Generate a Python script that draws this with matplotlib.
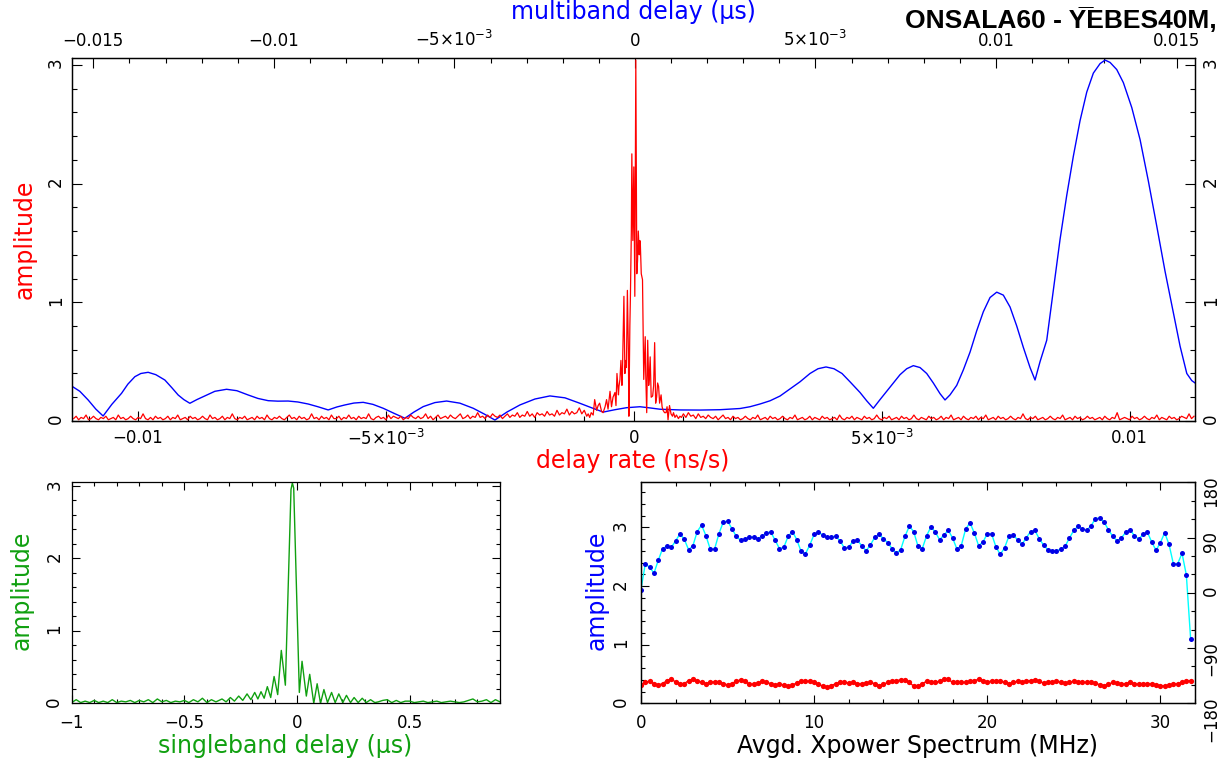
import numpy as np
import matplotlib
matplotlib.use('agg')
import matplotlib.pyplot as plt
from matplotlib.ticker import MultipleLocator, FixedLocator, FixedFormatter

plt.rcParams['font.family'] = ['DejaVu Sans']
plt.rcParams['mathtext.fontset'] = 'dejavusans'

RED = '#ff0000'
BLUE = '#0000ff'
GREEN = '#10a010'

# --- delay rate fringe (ns/s), noise floor sampled every 5e-5 ns/s
RATE_STEP = 5e-5
rate_left_start = -0.0113
rate_left_amp = [0.02, 0.04, 0.01, 0.03, 0.02, 0.05, 0.01, 0.02, 0.04, 0.02,
                 0.01, 0.03, 0.02, 0.04, 0.01, 0.02, 0.03, 0.01, 0.05, 0.02,
                 0.03, 0.01, 0.02, 0.04, 0.02, 0.01, 0.03, 0.02, 0.06, 0.02,
                 0.01, 0.03, 0.01, 0.04, 0.02, 0.03, 0.01, 0.02, 0.04, 0.01,
                 0.03, 0.02, 0.05, 0.01, 0.02, 0.03, 0.01, 0.04, 0.02, 0.03,
                 0.01, 0.02, 0.04, 0.02, 0.01, 0.05, 0.02, 0.03, 0.01, 0.02,
                 0.04, 0.01, 0.03, 0.02, 0.06, 0.02, 0.01, 0.03, 0.02, 0.04,
                 0.01, 0.02, 0.03, 0.01, 0.04, 0.02, 0.03, 0.01, 0.05, 0.02,
                 0.01, 0.03, 0.02, 0.04, 0.02, 0.01, 0.03, 0.05, 0.02, 0.03,
                 0.01, 0.04, 0.02, 0.03, 0.01, 0.02, 0.06, 0.02, 0.03, 0.01,
                 0.04, 0.02, 0.03, 0.01, 0.05, 0.02, 0.02, 0.04, 0.01, 0.03,
                 0.02, 0.05, 0.02, 0.03, 0.01, 0.04, 0.02, 0.03, 0.02, 0.06,
                 0.02, 0.01, 0.03, 0.04, 0.02, 0.03, 0.01, 0.05, 0.02, 0.04,
                 0.03, 0.02, 0.04, 0.01, 0.03, 0.02, 0.05, 0.03, 0.02, 0.04,
                 0.02, 0.03, 0.06, 0.02, 0.04, 0.01, 0.03, 0.05, 0.02, 0.03,
                 0.04, 0.02, 0.05, 0.03, 0.02, 0.04, 0.06, 0.02, 0.03, 0.05,
                 0.02, 0.04, 0.03, 0.07, 0.03, 0.04, 0.02, 0.05, 0.03, 0.06,
                 0.04, 0.03, 0.05, 0.02, 0.04, 0.06, 0.03, 0.05, 0.04, 0.07,
                 0.03, 0.05, 0.04, 0.08, 0.04, 0.06, 0.03, 0.07, 0.05, 0.06,
                 0.04, 0.08, 0.05, 0.06, 0.04, 0.09, 0.05, 0.07, 0.06, 0.10,
                 0.05, 0.08, 0.06, 0.07, 0.11, 0.06, 0.09]
rate_right_start = 0.0010
rate_right_amp = [0.06, 0.03, 0.07, 0.04, 0.05, 0.02, 0.06, 0.03, 0.04, 0.02,
                  0.05, 0.03, 0.02, 0.04, 0.01, 0.03, 0.05, 0.02, 0.03, 0.01,
                  0.04, 0.02, 0.03, 0.01, 0.02, 0.04, 0.02, 0.01, 0.03, 0.02,
                  0.05, 0.01, 0.02, 0.03, 0.01, 0.04, 0.02, 0.03, 0.01, 0.02,
                  0.04, 0.02, 0.01, 0.03, 0.02, 0.05, 0.01, 0.02, 0.03, 0.01,
                  0.02, 0.04, 0.01, 0.03, 0.02, 0.01, 0.04, 0.02, 0.03, 0.01,
                  0.02, 0.03, 0.01, 0.05, 0.02, 0.01, 0.03, 0.02, 0.04, 0.01,
                  0.03, 0.02, 0.01, 0.04, 0.02, 0.03, 0.01, 0.02, 0.05, 0.02,
                  0.01, 0.03, 0.02, 0.04, 0.01, 0.02, 0.03, 0.01, 0.04, 0.02,
                  0.03, 0.01, 0.02, 0.05, 0.02, 0.01, 0.03, 0.02, 0.01, 0.04,
                  0.02, 0.03, 0.01, 0.02, 0.04, 0.01, 0.03, 0.02, 0.05, 0.01,
                  0.02, 0.03, 0.01, 0.04, 0.02, 0.01, 0.03, 0.02, 0.04, 0.01,
                  0.03, 0.02, 0.05, 0.01, 0.02, 0.03, 0.01, 0.04, 0.02, 0.03,
                  0.01, 0.02, 0.04, 0.02, 0.01, 0.03, 0.02, 0.06, 0.02, 0.01,
                  0.03, 0.02, 0.04, 0.01, 0.02, 0.03, 0.01, 0.02, 0.04, 0.02,
                  0.01, 0.03, 0.02, 0.05, 0.01, 0.02, 0.03, 0.01, 0.04, 0.02,
                  0.03, 0.01, 0.02, 0.04, 0.02, 0.03, 0.01, 0.02, 0.03, 0.01,
                  0.04, 0.02, 0.01, 0.03, 0.02, 0.07, 0.01, 0.02, 0.03, 0.02,
                  0.01, 0.04, 0.02, 0.03, 0.01, 0.02, 0.04, 0.02, 0.01, 0.03,
                  0.02, 0.05, 0.01, 0.03, 0.02, 0.01, 0.04, 0.02, 0.03, 0.01,
                  0.02, 0.04, 0.03, 0.02, 0.06, 0.02, 0.04]
# centre of the delay rate fringe, x in 1e-3 ns/s
rate_peak_x = [-0.95, -0.92, -0.89, -0.86, -0.82, -0.79, -0.75, -0.72, -0.69, -0.65,
               -0.62, -0.58, -0.55, -0.52, -0.48, -0.45, -0.42, -0.38, -0.36, -0.34,
               -0.31, -0.30, -0.28, -0.26, -0.24, -0.23, -0.20, -0.18, -0.16, -0.15,
               -0.13, -0.11, -0.10, -0.08, -0.07, -0.05, -0.04, -0.02, 0.00, 0.02,
               0.04, 0.06, 0.075, 0.09, 0.11, 0.12, 0.13, 0.15, 0.175, 0.19,
               0.20, 0.23, 0.24, 0.26, 0.28, 0.30, 0.31, 0.33, 0.35, 0.38,
               0.40, 0.42, 0.44, 0.46, 0.48, 0.50, 0.52, 0.55, 0.57, 0.59,
               0.62, 0.65, 0.67, 0.69, 0.72, 0.75, 0.78, 0.80, 0.83, 0.86,
               0.90, 0.93, 0.96]
rate_peak_amp = [0.04, 0.06, 0.03, 0.07, 0.05, 0.18, 0.09, 0.13, 0.15, 0.08,
                 0.07, 0.12, 0.18, 0.10, 0.25, 0.12, 0.20, 0.24, 0.13, 0.40,
                 0.22, 0.29, 0.35, 0.51, 0.30, 0.40, 1.05, 0.40, 0.51, 0.45,
                 1.10, 0.60, 0.04, 0.80, 1.02, 1.60, 2.25, 1.52, 2.14, 1.05,
                 3.04, 1.24, 1.35, 1.60, 1.40, 1.52, 1.51, 1.24, 1.19, 0.70,
                 0.35, 0.71, 0.40, 0.07, 0.68, 0.30, 0.35, 0.54, 0.20, 0.21,
                 0.30, 0.66, 0.15, 0.20, 0.32, 0.29, 0.15, 0.22, 0.12, 0.09,
                 0.07, 0.07, 0.12, 0.01, 0.13, 0.06, 0.04, 0.07, 0.03, 0.05,
                 0.02, 0.04, 0.03]

# --- multiband delay function, x in 1e-3 us
mbd_x = [-15.604, -15.374, -15.144, -14.931, -14.729, -14.488, -14.219, -14.044, -13.850, -13.684,
         -13.482, -13.269, -13.019, -12.825, -12.651, -12.493, -12.327, -12.133, -11.911, -11.634,
         -11.310, -11.025, -10.712, -10.443, -10.158, -9.889, -9.604, -9.335, -9.050, -8.781,
         -8.496, -8.255, -8.033, -7.784, -7.526, -7.258, -6.972, -6.676, -6.371, -6.122,
         -5.864, -5.540, -5.216, -4.848, -4.479, -4.183, -3.878, -3.546, -3.186, -2.770,
         -2.355, -1.939, -1.524, -1.191, -0.878, -0.554, -0.230, 0.139, 0.416, 0.693,
         1.247, 1.801, 2.355, 2.909, 3.186, 3.463, 3.740, 4.017, 4.294, 4.571,
         4.848, 5.069, 5.291, 5.512, 5.734, 5.956, 6.233, 6.418, 6.601, 6.787,
         6.972, 7.155, 7.341, 7.526, 7.709, 7.895, 8.080, 8.263, 8.449, 8.587,
         8.726, 8.911, 9.094, 9.280, 9.465, 9.648, 9.834, 10.019, 10.202, 10.388,
         10.573, 10.756, 10.942, 11.080, 11.219, 11.404, 11.587, 11.773, 11.958, 12.141,
         12.327, 12.512, 12.695, 12.881, 13.019, 13.158, 13.343, 13.526, 13.759, 13.989,
         14.219, 14.452, 14.681, 14.911, 15.097, 15.283, 15.421, 15.512]
mbd_amp = [0.295, 0.25, 0.177, 0.10, 0.042, 0.14, 0.233, 0.31, 0.373, 0.40,
           0.41, 0.39, 0.345, 0.28, 0.219, 0.18, 0.149, 0.18, 0.211, 0.25,
           0.267, 0.255, 0.219, 0.19, 0.171, 0.167, 0.168, 0.16, 0.143, 0.12,
           0.093, 0.118, 0.135, 0.151, 0.157, 0.14, 0.107, 0.065, 0.023, 0.075,
           0.121, 0.155, 0.168, 0.150, 0.107, 0.06, 0.008, 0.075, 0.135, 0.185,
           0.211, 0.195, 0.149, 0.11, 0.075, 0.095, 0.112, 0.12, 0.11, 0.099,
           0.093, 0.092, 0.095, 0.105, 0.12, 0.143, 0.17, 0.21, 0.27, 0.33,
           0.40, 0.44, 0.455, 0.44, 0.40, 0.33, 0.24, 0.17, 0.107, 0.18,
           0.25, 0.32, 0.39, 0.44, 0.466, 0.45, 0.40, 0.32, 0.23, 0.177,
           0.22, 0.30, 0.43, 0.58, 0.76, 0.92, 1.04, 1.085, 1.06, 0.96,
           0.80, 0.62, 0.45, 0.345, 0.50, 0.68, 1.10, 1.53, 1.90, 2.23,
           2.53, 2.77, 2.93, 3.01, 3.04, 3.02, 2.96, 2.85, 2.64, 2.37,
           2.02, 1.64, 1.26, 0.91, 0.63, 0.40, 0.34, 0.32]

# --- singleband delay function (us)
sbd_x = [-1.00, -0.98, -0.96, -0.94, -0.92, -0.90, -0.88, -0.86, -0.84, -0.82,
         -0.80, -0.78, -0.76, -0.74, -0.72, -0.70, -0.68, -0.66, -0.64, -0.62,
         -0.60, -0.58, -0.56, -0.54, -0.52, -0.50, -0.48, -0.46, -0.44, -0.42,
         -0.40, -0.38, -0.36, -0.333, -0.315, -0.296, -0.278, -0.259, -0.241, -0.222,
         -0.205, -0.188, -0.174, -0.160, -0.146, -0.132, -0.117, -0.102, -0.086, -0.070,
         -0.052, -0.027, -0.021, -0.015, 0.010, 0.022, 0.041, 0.056, 0.074, 0.089,
         0.104, 0.119, 0.135, 0.153, 0.169, 0.185, 0.203, 0.219, 0.237, 0.253,
         0.271, 0.289, 0.307, 0.326, 0.345, 0.36, 0.38, 0.40, 0.42, 0.44,
         0.46, 0.48, 0.50, 0.52, 0.54, 0.56, 0.58, 0.60, 0.62, 0.64,
         0.66, 0.68, 0.70, 0.72, 0.74, 0.76, 0.78, 0.80, 0.82, 0.84,
         0.86, 0.88, 0.90]
sbd_amp = [0.01, 0.05, 0.01, 0.03, 0.01, 0.04, 0.01, 0.03, 0.01, 0.05,
           0.01, 0.03, 0.02, 0.04, 0.01, 0.04, 0.02, 0.05, 0.01, 0.06,
           0.02, 0.04, 0.01, 0.03, 0.02, 0.04, 0.01, 0.05, 0.02, 0.07,
           0.01, 0.05, 0.02, 0.06, 0.02, 0.08, 0.03, 0.10, 0.04, 0.13,
           0.05, 0.15, 0.06, 0.16, 0.07, 0.23, 0.08, 0.37, 0.12, 0.73,
           0.25, 2.95, 3.04, 2.97, 0.15, 0.58, 0.10, 0.40, 0.00, 0.27,
           0.00, 0.19, 0.01, 0.15, 0.01, 0.13, 0.01, 0.11, 0.01, 0.08,
           0.01, 0.07, 0.01, 0.05, 0.01, 0.02, 0.04, 0.05, 0.01, 0.04,
           0.01, 0.03, 0.03, 0.01, 0.02, 0.03, 0.01, 0.02, 0.03, 0.01,
           0.02, 0.03, 0.02, 0.01, 0.02, 0.04, 0.06, 0.02, 0.03, 0.05,
           0.01, 0.05, 0.02]

# --- averaged cross power spectrum, 0.25 MHz channels
XP_STEP = 0.25
xp_amp = [1.94, 2.38, 2.32, 2.22, 2.44, 2.64, 2.68, 2.66, 2.77, 2.89,
          2.80, 2.62, 2.69, 2.93, 3.04, 2.86, 2.63, 2.63, 2.89, 3.09,
          3.11, 2.98, 2.85, 2.78, 2.80, 2.83, 2.84, 2.81, 2.85, 2.91,
          2.92, 2.78, 2.64, 2.66, 2.85, 2.93, 2.79, 2.59, 2.55, 2.70,
          2.88, 2.92, 2.87, 2.83, 2.84, 2.85, 2.77, 2.65, 2.66, 2.77,
          2.78, 2.69, 2.60, 2.70, 2.83, 2.88, 2.81, 2.74, 2.64, 2.56,
          2.62, 2.85, 3.02, 2.93, 2.68, 2.64, 2.86, 3.01, 2.92, 2.79,
          2.87, 2.95, 2.82, 2.63, 2.69, 2.97, 3.08, 2.91, 2.69, 2.75,
          2.89, 2.89, 2.67, 2.54, 2.65, 2.85, 2.87, 2.79, 2.71, 2.82,
          2.93, 2.95, 2.81, 2.70, 2.62, 2.60, 2.60, 2.63, 2.68, 2.82,
          2.95, 3.02, 2.97, 2.95, 3.03, 3.15, 3.16, 3.09, 2.96, 2.85,
          2.77, 2.82, 2.92, 2.96, 2.86, 2.80, 2.88, 2.92, 2.75, 2.61,
          2.74, 2.91, 2.71, 2.38, 2.38, 2.56, 2.19, 1.09]
xp_phase = [-150, -146, -144, -148, -150, -148, -143, -141, -145, -149,
            -148, -143, -141, -143, -146, -148, -146, -145, -145, -148,
            -150, -148, -144, -142, -144, -149, -149, -147, -144, -146,
            -148, -150, -149, -150, -152, -150, -147, -144, -144, -144,
            -146, -149, -152, -154, -151, -148, -146, -146, -147, -146,
            -148, -148, -147, -146, -148, -151, -149, -146, -144, -143,
            -142, -142, -146, -152, -152, -148, -144, -146, -146, -144,
            -141, -141, -146, -146, -146, -146, -144, -143, -141, -143,
            -145, -144, -143, -144, -146, -148, -146, -144, -145, -144,
            -143, -142, -144, -147, -146, -146, -144, -146, -147, -146,
            -144, -145, -146, -146, -146, -147, -150, -151, -149, -146,
            -147, -149, -148, -146, -148, -149, -149, -148, -148, -150,
            -151, -152, -150, -149, -148, -146, -144, -143]

rate_ticks = [-0.01, -0.005, 0.0, 0.005, 0.01]
rate_labels = ['\u22120.01', '\u22125\u00d710$^{-3}$', '0', '5\u00d710$^{-3}$', '0.01']
mbd_ticks = [-0.015, -0.01, -0.005, 0.0, 0.005, 0.01, 0.015]
mbd_labels = ['\u22120.015', '\u22120.01', '\u22125\u00d710$^{-3}$', '0',
              '5\u00d710$^{-3}$', '0.01', '0.015']


def style_axes(ax, major_len, minor_len):
    ax.tick_params(which='both', direction='in', width=0.8, labelsize=12)
    ax.tick_params(which='major', length=major_len)
    ax.tick_params(which='minor', length=minor_len)
    ax.tick_params(axis='y', labelrotation=90)
    for s in ax.spines.values():
        s.set_linewidth(0.9)


fig = plt.figure(figsize=(12.23, 7.75), dpi=100)

# top panel: delay rate (bottom axis) and multiband delay (top axis)
ax_top = fig.add_axes([0.0586, 0.4568, 0.9185, 0.468])
ax_mb = ax_top.twiny()
ax_top.set_zorder(ax_mb.get_zorder() + 1)
ax_top.patch.set_visible(False)

ax_mb.plot(np.array(mbd_x) * 1e-3, mbd_amp, color=BLUE, lw=1.0)
ax_mb.set_xlim(-0.01560, 0.01551)

rate_x = np.concatenate([rate_left_start + RATE_STEP * np.arange(len(rate_left_amp)),
                         np.array(rate_peak_x) * 1e-3,
                         rate_right_start + RATE_STEP * np.arange(len(rate_right_amp))])
rate_amp = np.concatenate([rate_left_amp, rate_peak_amp, rate_right_amp])
ax_top.plot(rate_x, rate_amp, color=RED, lw=0.9)
ax_top.set_xlim(-0.01134, 0.01132)
ax_top.set_ylim(0, 3.055)

style_axes(ax_top, 7, 3.6)
style_axes(ax_mb, 7, 3.6)
ax_top.xaxis.set_major_locator(FixedLocator(rate_ticks))
ax_top.xaxis.set_major_formatter(FixedFormatter(rate_labels))
ax_top.xaxis.set_minor_locator(MultipleLocator(0.001))
ax_top.yaxis.set_major_locator(MultipleLocator(1))
ax_top.yaxis.set_minor_locator(MultipleLocator(0.2))
ax_top.tick_params(axis='x', which='both', top=False, bottom=True, pad=6)
ax_top.tick_params(axis='y', which='both', left=True, right=True,
                   labelleft=True, labelright=True, pad=5)
ax_mb.xaxis.set_major_locator(FixedLocator(mbd_ticks))
ax_mb.xaxis.set_major_formatter(FixedFormatter(mbd_labels))
ax_mb.xaxis.set_minor_locator(MultipleLocator(0.001))
ax_mb.tick_params(axis='x', which='both', top=True, bottom=False, pad=6)

fig.text(0.5176, 0.9845, 'multiband delay (\u03bcs)', color=BLUE, fontsize=17,
         ha='center', va='center')
fig.text(0.5176, 0.405, 'delay rate (ns/s)', color=RED, fontsize=17,
         ha='center', va='center')
fig.text(0.0204, 0.6916, 'amplitude', color=RED, fontsize=17, rotation=90,
         ha='center', va='center')

# bottom left: singleband delay
ax_sb = fig.add_axes([0.0586, 0.0925, 0.3502, 0.2852])
ax_sb.plot(sbd_x, sbd_amp, color=GREEN, lw=1.0)
ax_sb.set_xlim(-1.0, 0.9)
ax_sb.set_ylim(0, 3.05)
style_axes(ax_sb, 5.5, 3)
ax_sb.xaxis.set_major_locator(FixedLocator([-1.0, -0.5, 0.0, 0.5]))
ax_sb.xaxis.set_major_formatter(FixedFormatter(['\u22121', '\u22120.5', '0', '0.5']))
ax_sb.xaxis.set_minor_locator(MultipleLocator(0.1))
ax_sb.yaxis.set_major_locator(MultipleLocator(1))
ax_sb.yaxis.set_minor_locator(MultipleLocator(0.2))
ax_sb.tick_params(which='both', top=True, right=True)
ax_sb.tick_params(axis='x', pad=8)
ax_sb.tick_params(axis='y', pad=6)

fig.text(0.018, 0.2387, 'amplitude', color=GREEN, fontsize=17, rotation=90,
         ha='center', va='center')
fig.text(0.233, 0.0374, 'singleband delay (\u03bcs)', color=GREEN, fontsize=17,
         ha='center', va='center')

# bottom right: averaged cross power spectrum
ax_xp = fig.add_axes([0.5241, 0.0925, 0.4530, 0.2852])
ax_ph = ax_xp.twinx()
freq = XP_STEP * np.arange(len(xp_amp))
ax_xp.plot(freq, xp_amp, color='#00ffff', lw=1.0, zorder=2)
ax_xp.plot(freq, xp_amp, 'o', color='#0000e6', ms=3.6, mec='none', zorder=3)
ax_ph.plot(freq, xp_phase, '-o', color=RED, lw=1.0, ms=3.8, mec='none')
ax_xp.set_xlim(0, 32)
ax_xp.set_ylim(0, 3.77)
ax_ph.set_ylim(-180, 180)
style_axes(ax_xp, 5.5, 3)
style_axes(ax_ph, 5.5, 3)
ax_xp.xaxis.set_major_locator(MultipleLocator(10))
ax_xp.xaxis.set_minor_locator(MultipleLocator(2))
ax_xp.yaxis.set_major_locator(MultipleLocator(1))
ax_xp.yaxis.set_minor_locator(MultipleLocator(0.2))
ax_xp.tick_params(which='both', top=True, right=False)
ax_xp.tick_params(axis='x', pad=8)
ax_xp.tick_params(axis='y', pad=8)
ax_ph.yaxis.set_major_locator(FixedLocator([-180, -90, 0, 90, 180]))
ax_ph.yaxis.set_major_formatter(FixedFormatter(['\u2212180', '\u221290', '0', '90', '180']))
ax_ph.yaxis.set_minor_locator(MultipleLocator(30))
ax_ph.tick_params(axis='y', pad=5)

fig.text(0.488, 0.2387, 'amplitude', color=BLUE, fontsize=17, rotation=90,
         ha='center', va='center')
fig.text(0.7506, 0.0374, 'Avgd. Xpower Spectrum (MHz)', color='black', fontsize=17,
         ha='center', va='center')

fig.text(0.740, 0.964, 'ONSALA60 - Y\u0305EBES40M,', fontsize=19, fontweight='bold',
         family=['Liberation Sans', 'DejaVu Sans'], ha='left', va='baseline')

fig.savefig('out.png', dpi=100)
